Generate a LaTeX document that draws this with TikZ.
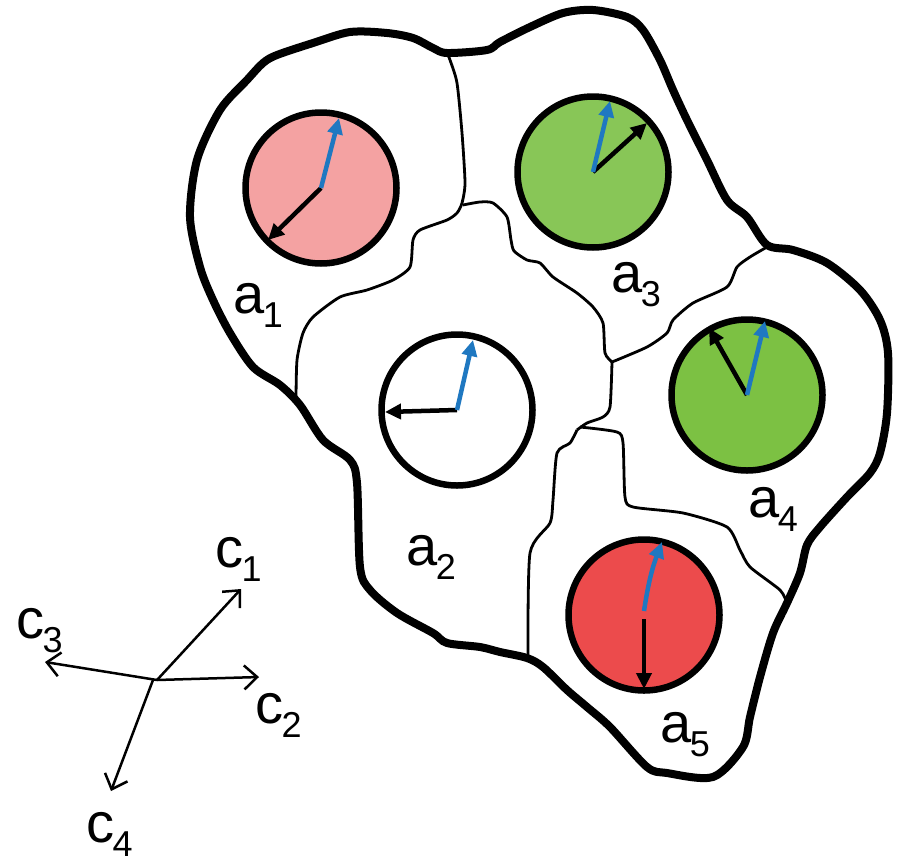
\documentclass[tikz,border=0pt]{standalone}
\usepackage{fontspec}
\setmainfont{Liberation Sans}
\usetikzlibrary{arrows.meta}
\definecolor{pinkA}{HTML}{F4A2A2}
\definecolor{greenA}{HTML}{88C657}
\definecolor{greenB}{HTML}{7CC143}
\definecolor{redA}{HTML}{EC4B4C}
\definecolor{blueA}{HTML}{1F78C1}
\newcommand\lbl[2]{\fontsize{56}{56}\selectfont #1\kern-1.5pt\raisebox{-14pt}{\fontsize{36}{36}\selectfont #2}}
\begin{document}
\begin{tikzpicture}[x=1pt,y=-1pt,
  outline/.style={line width=8pt, line join=round},
  wall/.style={line width=2.8pt, line join=round},
  cell/.style={circle, draw, line width=6.5pt, minimum size=151pt, inner sep=0pt},
  blk/.style={line width=4.5pt, -{Triangle[length=16pt,width=15pt]}},
  blu/.style={blk, draw=blueA, color=blueA},
  axis/.style={line width=2.5pt, -{Straight Barb[length=13pt,width=24pt,line width=2.5pt]}},
  lab/.style={anchor=base west, inner sep=0pt}]
\path[use as bounding box] (0,0) rectangle (901,862);

% outer boundary
\draw[outline] plot[smooth cycle, tension=0.5] coordinates {
 (263,63) (277,55) (313,43) (350,32) (387,33) (413,38) (433,48) (447,53) (487,50)
 (500,42) (530,27) (563,13) (593,10) (627,17) (643,30) (660,60) (673,90) (687,120)
 (707,160) (727,200) (747,217) (767,245) (793,250) (827,263) (860,290) (880,320)
 (888,353) (887,413) (880,453) (870,473) (847,497) (820,527) (807,545) (800,573)
 (787,603) (773,633) (760,677) (750,717) (743,747) (713,777) (667,773) (647,767)
 (610,727) (587,707) (567,690) (543,667) (527,658) (500,652) (480,647) (447,643)
 (433,633) (397,613) (370,590) (360,567) (357,483) (350,460) (323,440) (300,405)
 (280,385) (253,367) (230,333) (213,300) (200,267) (190,217) (197,160) (220,110)
 (247,80)};

% inner walls
\draw[wall] plot[smooth, tension=0.4] coordinates {
 (447,53) (450,60) (457,83) (462,133) (465,183) (462,203) (457,213) (447,220)
 (420,230) (413,240) (410,267) (393,280) (367,290) (340,297) (313,317) (303,333)
 (297,360) (296,398)};
\draw[wall] plot[smooth, tension=0.4] coordinates {
 (463,205) (480,202) (493,203) (507,217) (511,240) (514,251) (527,260) (540,263)
 (553,277) (577,293) (593,307) (603,323) (605,353) (612,362)};
\draw[wall] plot[smooth, tension=0.4] coordinates {
 (612,362) (647,347) (667,333) (673,320) (693,303) (727,287) (737,267) (750,257)
 (767,247)};
\draw[wall] plot[smooth, tension=0.4] coordinates {
 (612,362) (610,407) (603,417) (587,423) (577,430)};
\draw[wall] plot[smooth, tension=0.4] coordinates {
 (577,430) (570,443) (557,453) (553,500) (550,523) (530,553) (528,655)};
\draw[wall] plot[smooth, tension=0.4] coordinates {
 (580,427) (617,432) (623,443) (625,497) (633,507) (683,513) (727,527) (740,550)
 (750,567) (780,590) (787,603)};

% cells
\node[cell, fill=pinkA] (n1) at (321,188) {};
\node[cell, fill=white] (n2) at (457,410) {};
\node[cell, fill=greenA] (n3) at (593,172) {};
\node[cell, fill=greenB] (n4) at (747,395) {};
\node[cell, fill=redA] (n5) at (644,615) {};

\coordinate (b1) at (339,118);
\coordinate (k1) at (268,240);
\coordinate (b2) at (473,340);
\coordinate (k2) at (385,412);
\coordinate (b3) at (610,101);
\coordinate (k3) at (647,123);
\coordinate (b4) at (765,321);
\coordinate (k4) at (709,328);
\coordinate (s5) at (644,611);
\coordinate (b5) at (662,542);
\coordinate (t5) at (644,619);
\coordinate (k5) at (644,689);

\draw[blk] (n1.center) -- (k1);
\draw[blu] (n1.center) -- (b1);
\draw[blk] (n2.center) -- (k2);
\draw[blu] (n2.center) -- (b2);
\draw[blk] (n3.center) -- (k3);
\draw[blu] (n3.center) -- (b3);
\draw[blk] (n4.center) -- (k4);
\draw[blu] (n4.center) -- (b4);
\draw[blu] (s5) to[bend left=6] (b5);
\draw[blk] (t5) -- (k5);

% labels
\node[lab] (la1) at (233,313) {\lbl{a}{1}};
\node[lab] (la2) at (406,565) {\lbl{a}{2}};
\node[lab] (la3) at (611,292) {\lbl{a}{3}};
\node[lab] (la4) at (748,517) {\lbl{a}{4}};
\node[lab] (la5) at (660,742) {\lbl{a}{5}};

% axes
\coordinate (o) at (157,680);
\coordinate (e1) at (241,589);
\coordinate (e2) at (259,677);
\coordinate (e3) at (45,662);
\coordinate (e4) at (111,791);
\draw[axis] (o) -- (e1);
\draw[axis] (o) -- (e2);
\draw[axis] (o) -- (e3);
\draw[axis] ([xshift=-4pt]o) -- (e4);

\node[lab] (lc1) at (215,567) {\lbl{c}{1}};
\node[lab] (lc2) at (255,723) {\lbl{c}{2}};
\node[lab] (lc3) at (16,638) {\lbl{c}{3}};
\node[lab] (lc4) at (86,842) {\lbl{c}{4}};
\end{tikzpicture}
\end{document}
